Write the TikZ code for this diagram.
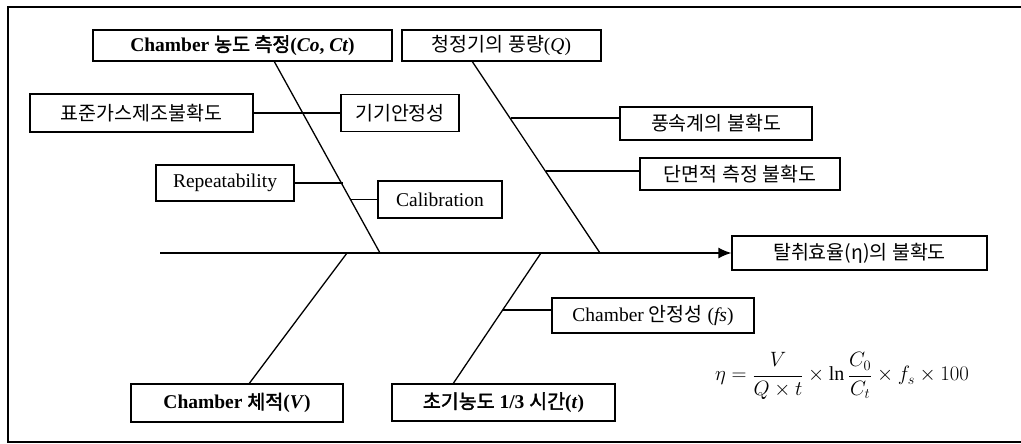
\documentclass[tikz,border=0pt]{standalone}
\usepackage{fontspec}
\setmainfont{Liberation Serif}
\newfontfamily\kr{Noto Sans CJK KR}[AutoFakeBold=2]
\usetikzlibrary{arrows.meta}
\begin{document}
\begin{tikzpicture}[x=1pt,y=-1pt,
  box/.style={draw,line width=1.3pt,inner sep=0pt,font=\fontsize{19.5}{22}\selectfont},
  ln/.style={line width=1.3pt},
  frame/.style={line width=1.3pt}]
\useasboundingbox (0,0) rectangle (1021,444);
% frame
\draw[frame] (1021,7) -- (8,7) -- (8,442) -- (1021,442);
% main category boxes
\node[box,minimum width=299pt,minimum height=31pt] (cc) at (242.5,45.5) {\bfseries Chamber {\kr 농도 측정}(\textit{Co}, \textit{Ct})};
\node[box,minimum width=199pt,minimum height=31pt] (q) at (501.5,45.5) {{\kr 청정기의 풍량}(\textit{Q})};
\node[box,minimum width=212pt,minimum height=38pt] (vol) at (237,403) {\bfseries Chamber {\kr 체적}(\textit{V})};
\node[box,minimum width=223pt,minimum height=37pt] (t13) at (503.5,402.5) {\bfseries {\kr 초기농도} 1/3 {\kr 시간}(\textit{t})};
% effect
\node[box,minimum width=255pt,minimum height=34pt] (eff) at (859.5,253) {\kr 탈취효율(η)의 불확도};
% sub-cause boxes
\node[box,minimum width=223pt,minimum height=38pt] (std) at (141.5,113) {\kr 표준가스제조불확도};
\node[box,minimum width=118pt,minimum height=37pt] (stab) at (400,113) {\kr 기기안정성};
\node[box,minimum width=138pt,minimum height=36pt] (rep) at (225,183) {Repeatability};
\node[box,minimum width=124pt,minimum height=37pt] (cal) at (440,199.5) {Calibration};
\node[box,minimum width=192pt,minimum height=33pt] (ws) at (716,123.5) {\kr 풍속계의 불확도};
\node[box,minimum width=200pt,minimum height=32pt] (ar) at (740,174) {\kr 단면적 측정 불확도};
\node[box,minimum width=202pt,minimum height=35pt] (fs) at (653,315.5) {Chamber {\kr 안정성} (\textit{fs})};
% formula
\node[font=\fontsize{20}{24}\selectfont] (eq) at (842,376) {$\displaystyle \eta=\frac{V}{Q\times t}\times\ln\frac{C_0}{C_t}\times f_s\times 100$};
% spine
\coordinate (s0) at (160,253);
\coordinate (j1) at (380,253);
\coordinate (j2) at (600,253);
\coordinate (j3) at (347,253);
\coordinate (j4) at (541,253);
\draw[ln,-{Latex[length=13pt,width=11pt]}] (s0) -- (eff.west);
% bones
\draw[ln] ([xshift=182pt]cc.south west) -- (j1);
\draw[ln] ([xshift=71pt]q.south west) -- (j2);
\draw[ln] (j3) -- ([xshift=119pt]vol.north west);
\draw[ln] (j4) -- ([xshift=62pt]t13.north west);
% branches
\draw[ln] (std.east) -- (stab.west);
\coordinate (rj) at (342.8,183);
\draw[ln] (rep.east) -- (rj);
\coordinate (cj) at (350.8,199.5);
\draw[ln] (cj) -- (cal.west);
\coordinate (wj) at (510.7,118);
\draw[ln] (wj) -- ([yshift=5.5pt]ws.west);
\coordinate (aj) at (545.7,171);
\draw[ln] (aj) -- ([yshift=3pt]ar.west);
\coordinate (fj) at (503.1,310);
\draw[ln] (fj) -- ([yshift=5.5pt]fs.west);
\end{tikzpicture}
\end{document}
